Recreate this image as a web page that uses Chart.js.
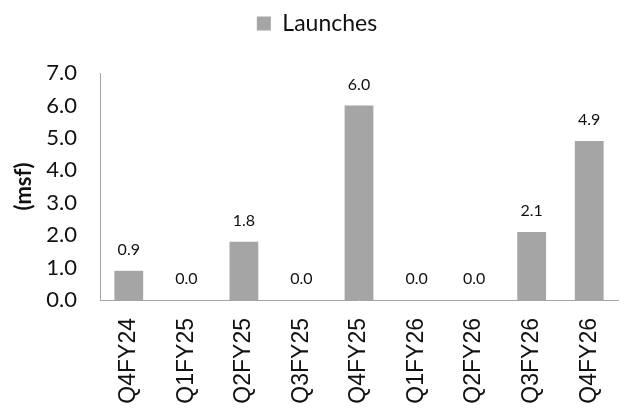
<!DOCTYPE html>
<html>
<head>
<meta charset="utf-8">
<script src="https://cdn.jsdelivr.net/npm/chart.js@4.4.0/dist/chart.umd.min.js"></script>
<style>
html, body { margin: 0; padding: 0; background: #fff; }
#wrap { width: 630px; height: 408px; }
</style>
</head>
<body>
<div id="wrap"><canvas id="Chart_1" width="630" height="408"></canvas></div>
<script>
let quarters = ["Q4FY24", "Q1FY25", "Q2FY25", "Q3FY25", "Q4FY25", "Q1FY26", "Q2FY26", "Q3FY26", "Q4FY26"];
let launches = [0.9, 0.0, 1.8, 0.0, 6.0, 0.0, 0.0, 2.1, 4.9];
let yMin = 0;
let yMax = 7;
let yStep = 1;

// values above each bar
let barLabels = {
  id: 'barLabels',
  afterDatasetsDraw(chart) {
    let ctx = chart.ctx;
    let meta = chart.getDatasetMeta(0);
    ctx.save();
    ctx.font = '16px Lato';
    ctx.fillStyle = '#111';
    ctx.textAlign = 'center';
    ctx.textBaseline = 'middle';
    meta.data.forEach(function (bar, i) {
      ctx.fillText(launches[i].toFixed(1), bar.x, bar.y - 21);
    });
    ctx.restore();
  }
};

// extra room under the legend, and nudge it to the page centre
let legendGap = {
  id: 'legendGap',
  beforeInit(chart) {
    let fit = chart.legend.fit;
    chart.legend.fit = function () {
      fit.bind(chart.legend)();
      this.height += 28;
    };
    let draw = chart.legend.draw;
    chart.legend.draw = function () {
      chart.ctx.save();
      chart.ctx.translate(8, 0);
      draw.bind(chart.legend)();
      chart.ctx.restore();
    };
  }
};

let cxt = document.getElementById('Chart_1');
let grafico = new Chart(cxt, {
  type: 'bar',
  data: {
    labels: quarters,
    datasets: [{
      label: 'Launches',
      data: launches,
      backgroundColor: '#a5a5a5',
      borderWidth: 0,
      barPercentage: 0.5,
      categoryPercentage: 1.0
    }]
  },
  options: {
    responsive: false,
    animation: false,
    layout: { padding: { left: 0, right: 12, top: 2, bottom: 0 } },
    plugins: {
      legend: {
        position: 'top',
        labels: {
          font: { family: 'Lato', size: 23 },
          color: '#111',
          boxWidth: 14,
          boxHeight: 14,
          padding: 10
        }
      },
      tooltip: { enabled: false }
    },
    scales: {
      x: {
        grid: { display: false },
        border: { display: true, color: '#a6a6a6', width: 1 },
        afterFit: function (scale) { scale.height = 108; },
        ticks: {
          autoSkip: false,
          minRotation: 90,
          maxRotation: 90,
          padding: 10,
          color: '#111',
          font: { family: 'Liberation Sans', size: 23 }
        }
      },
      y: {
        min: yMin,
        max: yMax,
        grid: { display: false },
        border: { display: true, color: '#a6a6a6', width: 1 },
        afterFit: function (scale) { scale.width = 100; },
        title: {
          display: true,
          text: '(msf)',
          color: '#111',
          font: { family: 'Lato', size: 22, weight: 'bold' },
          padding: { top: 11, bottom: 0 }
        },
        ticks: {
          autoSkip: false,
          stepSize: yStep,
          padding: 15,
          color: '#111',
          font: { family: 'Lato', size: 22 },
          callback: function (v) { return v.toFixed(1); }
        }
      }
    }
  },
  plugins: [barLabels, legendGap]
});
</script>
</body>
</html>
